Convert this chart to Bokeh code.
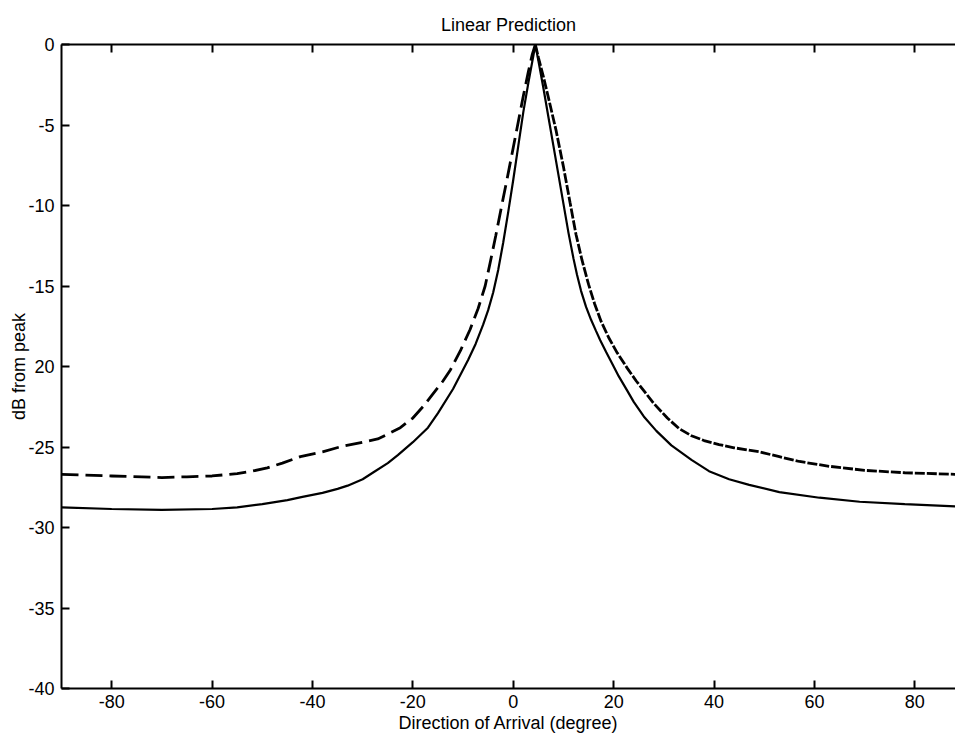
from bokeh.plotting import figure
from bokeh.models import LinearAxis, FixedTicker, Range1d
from bokeh.embed import file_html
from bokeh.resources import INLINE

# Solid curve (degree, dB)
solid_x = [-90, -80, -70, -60, -55, -50, -45, -42, -38, -35, -33, -30, -28, -25, -23, -20, -17, -15, -12, -10.5, -9,
           -7.5, -6, -5, -4, -3, -2, -1, 0, 1, 2, 3, 4, 4.4,
           5, 6, 7, 8, 9, 10, 11, 12, 12.7, 13.5, 14.5, 15.5, 16.5, 17.3, 18.5, 20, 21, 22.7, 24, 26, 28.5, 31.5, 35.5, 39,
           43, 47, 53, 61, 69, 78, 88.5]
solid_y = [-28.75, -28.85, -28.9, -28.85, -28.75, -28.55, -28.3, -28.1, -27.85, -27.6, -27.4, -27.0, -26.6, -26.0, -25.5, -24.7, -23.8, -22.9, -21.4, -20.5, -19.6,
           -18.6, -17.4, -16.5, -15.4, -14.0, -12.3, -10.4, -8.4, -6.3, -4.2, -2.4, -0.7, 0.0,
           -1.0, -2.7, -4.5, -6.3, -8.1, -9.9, -11.7, -13.3, -14.3, -15.3, -16.3, -17.1, -17.8, -18.35, -19.1, -20.0, -20.6, -21.5, -22.2, -23.1, -24.0, -24.9, -25.8, -26.5,
           -27.0, -27.35, -27.8, -28.15, -28.4, -28.55, -28.7]

# Dashed curve (degree, dB)
dashed_x = [-90, -80, -70, -65, -60, -55, -52, -49, -46, -42.4, -38, -34, -30, -27, -25, -22.5, -20, -18, -16, -14, -12.5,
            -10.5, -8.6, -7, -5.6, -4.5, -3.5, -2.3, -1.2, 0, 1, 2, 3, 3.8, 4.4,
            5, 6, 7, 8.5, 10, 11.3, 12.5, 13.7, 15, 16.2, 17.5, 19, 20.7, 22.7, 24.5, 26, 28, 30.7, 33, 35.5, 38,
            41, 44, 49, 53, 57, 63, 70, 78, 88.5]
dashed_y = [-26.7, -26.8, -26.9, -26.85, -26.8, -26.65, -26.5, -26.3, -26.0, -25.6, -25.3, -24.95, -24.7, -24.5, -24.2, -23.8, -23.2, -22.5, -21.7, -20.9, -20.2,
            -19.0, -17.7, -16.4, -15.0, -13.4, -11.9, -10.0, -8.3, -6.4, -4.8, -3.2, -1.7, -0.6, 0.0,
            -0.8, -2.0, -3.3, -5.3, -7.6, -9.8, -11.8, -13.4, -14.9, -16.1, -17.2, -18.2, -19.15, -20.1, -20.9, -21.5, -22.3, -23.2, -23.85, -24.3, -24.6,
            -24.85, -25.05, -25.3, -25.6, -25.9, -26.2, -26.45, -26.6, -26.7]

x_ticks = [-80, -60, -40, -20, 0, 20, 40, 60, 80]
x_tick_labels = ["-80", "-60", "-40", "-20", "0", "20", "40", "60", "80"]
y_ticks = [-40, -35, -30, -25, -20, -15, -10, -5, 0]
y_tick_labels = ["-40", "-35", "-30", "-25", "20", "-15", "-10", "-5", "0"]

FONT = "Liberation Sans"

p = figure(width=955, height=735, x_range=Range1d(-90, 88.1), y_range=Range1d(-40, 0),
           output_backend="svg", toolbar_location=None,
           min_border_left=61, min_border_right=0, min_border_top=44, min_border_bottom=46,
           background_fill_color="white", border_fill_color="white")
p.outline_line_color = None
p.xgrid.visible = False
p.ygrid.visible = False

p.title.text = "Linear Prediction"
p.title.align = "center"
p.title.text_font = FONT
p.title.text_font_size = "18px"
p.title.text_font_style = "normal"
p.title.text_color = "black"
p.title.standoff = 20

for ax in (p.xaxis[0], p.yaxis[0]):
    ax.axis_line_width = 2
    ax.axis_line_color = "black"
    ax.major_tick_line_width = 2
    ax.major_tick_in = 8
    ax.major_tick_out = 0
    ax.minor_tick_line_color = None
    ax.major_label_text_font = FONT
    ax.major_label_text_font_size = "18px"
    ax.major_label_text_color = "black"
    ax.axis_label_text_font = FONT
    ax.axis_label_text_font_size = "18px"
    ax.axis_label_text_font_style = "normal"
    ax.axis_label_text_color = "black"

p.xaxis.ticker = FixedTicker(ticks=x_ticks)
p.yaxis.ticker = FixedTicker(ticks=y_ticks)
p.xaxis.major_label_overrides = {t: l for t, l in zip(x_ticks, x_tick_labels)}
p.yaxis.major_label_overrides = {t: l for t, l in zip(y_ticks, y_tick_labels)}
p.xaxis.axis_label = "Direction of Arrival (degree)"
p.yaxis.axis_label = "dB from peak"
p.xaxis.major_label_standoff = 6
p.xaxis.axis_label_standoff = 2
p.yaxis.major_label_standoff = 7
p.yaxis.axis_label_standoff = -4

top = LinearAxis(ticker=FixedTicker(ticks=x_ticks),
                 major_label_overrides={t: "" for t in x_ticks},
                 major_tick_in=8, major_tick_out=0, minor_tick_line_color=None,
                 axis_line_width=2, major_tick_line_width=2, major_label_standoff=0)
p.add_layout(top, "above")

p.line(solid_x, solid_y, line_color="black", line_width=2.2)

peak = dashed_y.index(0.0)
p.line(dashed_x[:peak + 1], dashed_y[:peak + 1], line_color="black", line_width=2.8, line_dash="17 7")
p.line(dashed_x[peak:], dashed_y[peak:], line_color="black", line_width=2.8, line_dash="10 2")

open("out.html", "w").write(file_html(p, INLINE))
